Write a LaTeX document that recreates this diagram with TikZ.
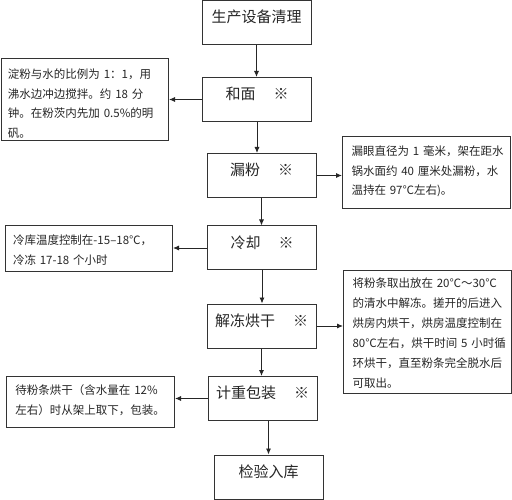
\documentclass[tikz,border=0pt]{standalone}
\usepackage{fontspec}
\setmainfont{Noto Sans CJK SC}
\usetikzlibrary{arrows.meta}
\newcommand\mytop[1]{\rule{0pt}{#1pt}}
\newcommand\mybot[1]{\rule[-#1pt]{0pt}{#1pt}}
\begin{document}
\begin{tikzpicture}[x=1pt,y=-1pt,
  mainbox/.style={draw=black!80, line width=1pt, minimum width=109pt, minimum height=44pt,
    inner sep=0pt, font=\fontsize{15}{18}\selectfont, text height=11pt, text depth=11pt, text=black!85},
  sidebox/.style={draw=black!80, line width=1pt, anchor=north west, inner ysep=0pt,
    align=left, font=\fontsize{11.5}{19.5}\selectfont, text=black!85},
  arr/.style={-{Latex[length=6pt,width=5pt]}, line width=0.9pt, draw=black!85}]
\useasboundingbox (0,0) rectangle (512,500);
\fill[white] (0,0) rectangle (512,500);

\node[mainbox] (b1) at (256.5,22.5) {生产设备清理};
\node[mainbox] (b2) at (257,99.5) {和面\hspace{18pt}※};
\node[mainbox] (b3) at (261.5,175.5) {漏粉\hspace{18pt}※};
\node[mainbox] (b4) at (262,248) {冷却\hspace{18pt}※};
\node[mainbox] (b5) at (261.5,326) {解冻烘干\hspace{18pt}※};
\node[mainbox] (b6) at (262.5,398.5) {计重包装\hspace{18pt}※};
\node[mainbox] (b7) at (268.5,477) {检验入库};

\node[sidebox, inner xsep=7pt, text width=153.5pt] (l1) at (0.5,58)
  {\mbox{\mytop{20.4}淀粉与水的比例为 1：1，用}\\
   \mbox{沸水边冲边搅拌。约 18 分}\\
   \mbox{钟。在粉茨内先加 0.5\%的明}\\
   \mbox{矾。\mybot{3.1}}};

\node[sidebox, inner xsep=9pt, text width=150pt] (r1) at (342,136)
  {\mbox{\mytop{19.4}漏眼直径为 1 毫米，架在距水}\\
   \mbox{锅水面约 40 厘米处漏粉，水}\\
   \mbox{温持在 97℃左右)。\mybot{13.6}}};

\node[sidebox, inner xsep=7.5pt, text width=152pt] (l2) at (5,225)
  {\mbox{\mytop{19.4}冷库温度控制在-15–18℃，}\\
   \mbox{冷冻 17-18 个小时\mybot{7.1}}};

\node[sidebox, inner xsep=9pt, text width=150pt, font=\fontsize{11.5}{20}\selectfont] (r2) at (343,270)
  {\mbox{\mytop{17.4}将粉条取出放在 20℃～30℃}\\
   \mbox{的清水中解冻。搓开的后进入}\\
   \mbox{烘房内烘干，烘房温度控制在}\\
   \mbox{80℃左右，烘干时间 5 小时循}\\
   \mbox{环烘干，直至粉条完全脱水后}\\
   \mbox{可取出。\mybot{5.6}}};

\node[sidebox, inner xsep=9pt, text width=150pt, font=\fontsize{11.5}{20}\selectfont] (l3) at (6,376)
  {\mbox{\mytop{18.4}待粉条烘干（含水量在 12\%}\\
   \mbox{左右）时从架上取下，包装。\mybot{12.6}}};

\draw[arr] (b1.south) -- (b1.south |- b2.north);
\draw[arr] (b2.south) -- (b2.south |- b3.north);
\draw[arr] (b3.south) -- (b3.south |- b4.north);
\draw[arr] (b4.south) -- (b4.south |- b5.north);
\draw[arr] (b5.south) -- (b5.south |- b6.north);
\draw[arr] (b6.south -| b7.north) -- (b7.north);

\draw[arr] (b2.west) -- (b2.west -| l1.east);
\draw[arr] (b3.east) -- (b3.east -| r1.west);
\draw[arr] (b4.west) -- (b4.west -| l2.east);
\draw[arr] (b5.east) -- (b5.east -| r2.west);
\draw[arr] (b6.west) -- (b6.west -| l3.east);
\end{tikzpicture}
\end{document}
